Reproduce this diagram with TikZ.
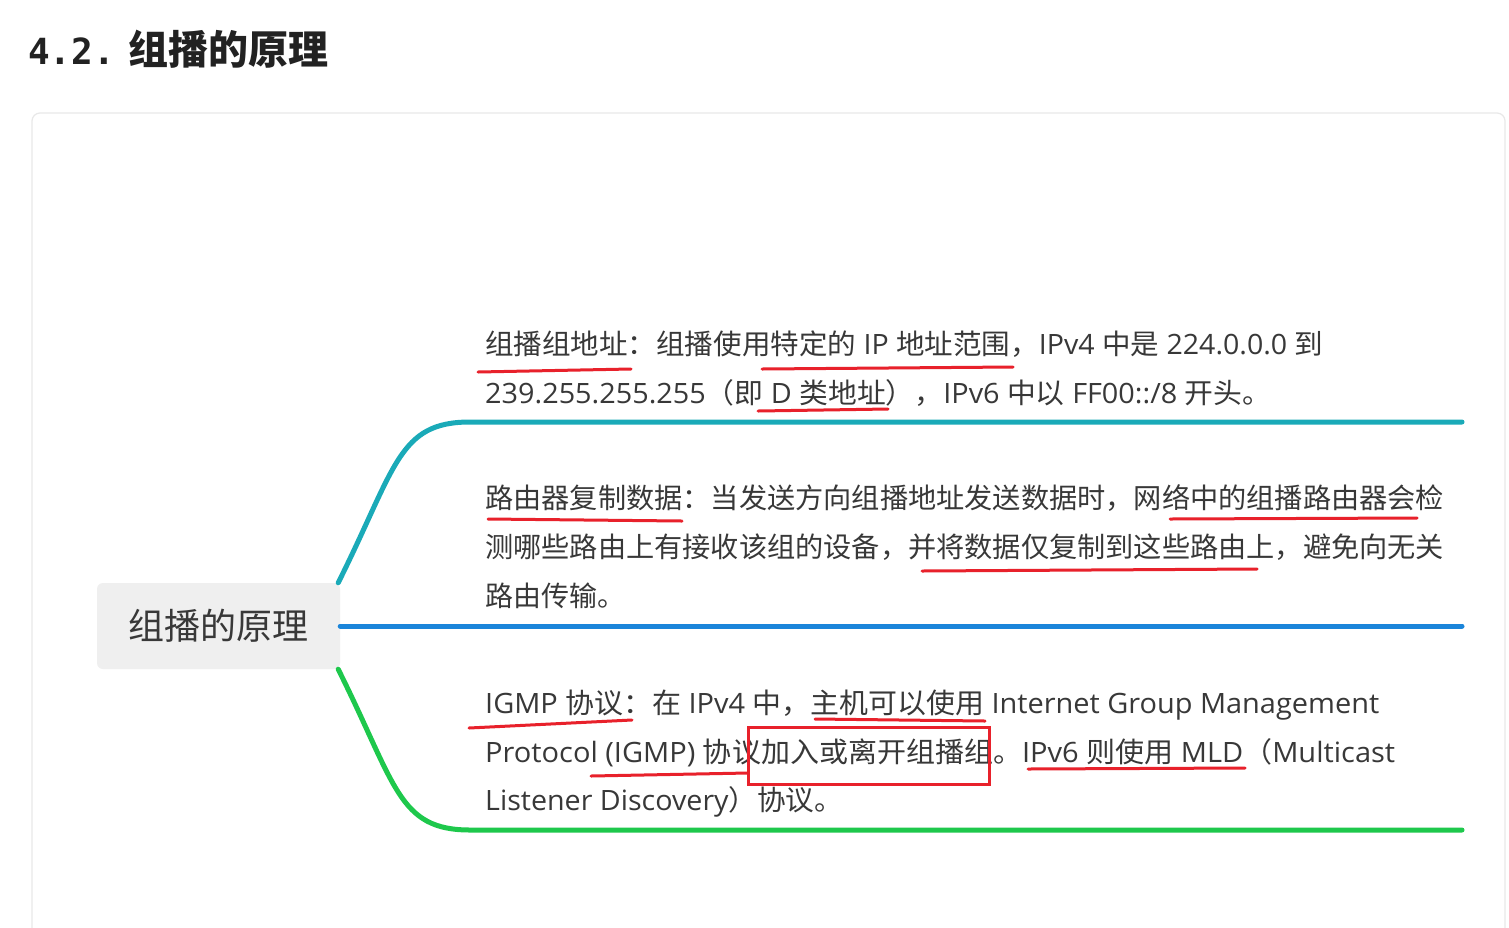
\documentclass[tikz,border=0pt]{standalone}
\usepackage{fontspec}
\usepackage{graphicx}
\setmainfont{Open Sans}
\newfontfamily\cjk{Noto Sans CJK SC}
\newfontfamily\monofam{DejaVu Sans Mono}
\newcommand\zh[1]{{\cjk #1}}
\definecolor{txt}{HTML}{383838}
\definecolor{titlecol}{HTML}{222222}
\definecolor{rootfill}{HTML}{EFEFEF}
\definecolor{cardline}{HTML}{E8E8E8}
\definecolor{brteal}{HTML}{1AAAB8}
\definecolor{brblue}{HTML}{1B85DA}
\definecolor{brgreen}{HTML}{1EC84C}
\definecolor{annred}{HTML}{E8212B}
\begin{document}
\begin{tikzpicture}[x=1pt,y=-1pt,
  textline/.style={font=\fontsize{28pt}{34pt}\selectfont, text=txt, anchor=west, inner sep=0pt, text height=24.6pt, text depth=3.4pt},
  rootbox/.style={fill=rootfill, rounded corners=6pt, minimum width=243pt, minimum height=86pt, inner sep=0pt, text=txt, font=\cjk\fontsize{36pt}{40pt}\selectfont},
  branch/.style={line width=5pt, line cap=round},
  redline/.style={draw=annred, line width=3pt, line cap=round}]
\useasboundingbox (0,0) rectangle (1509,927);
\fill[white] (0,0) rectangle (1509,927);
\clip (0,0) rectangle (1509,927);
% card
\draw[cardline, line width=1.2pt, rounded corners=8pt] (32,960) -- (32,113) -- (1505,113) -- (1505,960);
% title
\node[anchor=west, inner sep=0pt, text=titlecol, text height=35.2pt, text depth=4.8pt] (title) at (28,49)
  {{\monofam\bfseries\fontsize{36pt}{40pt}\selectfont 4.2.}\hspace{14pt}{\cjk\bfseries\fontsize{40pt}{44pt}\selectfont 组播的原理}};
% root
\node[rootbox] (root) at (218.5,626) {组播的原理};
% branch ends
\coordinate (t1) at (470,422); \coordinate (t1e) at (1462,422);
\coordinate (t2e) at (1462,626);
\coordinate (t3) at (470,830); \coordinate (t3e) at (1462,830);
\draw[branch, brteal] ([xshift=-2pt]root.north east) .. controls +(58,-116) and (398,422) .. (t1) -- (t1e);
\draw[branch, brblue] (root.east) -- (t2e);
\draw[branch, brgreen] ([xshift=-2pt]root.south east) .. controls +(58,116) and (398,830) .. (t3) -- (t3e);
% block 1
\node[textline] (b1a) at (485,344) {\resizebox{838pt}{\height}{\zh{组播组地址：组播使用特定的} IP \zh{地址范围，}IPv4 \zh{中是} 224.0.0.0 \zh{到}}};
\node[textline] (b1b) at (485,393) {\resizebox{786pt}{\height}{239.255.255.255\zh{（即} D \zh{类地址），}IPv6 \zh{中以} FF00::/8 \zh{开头。}}};
% block 2
\node[textline, font=\cjk\fontsize{28pt}{34pt}\selectfont] (b2a) at (485,498) {\resizebox{959pt}{\height}{路由器复制数据：当发送方向组播地址发送数据时，网络中的组播路由器会检}};
\node[textline, font=\cjk\fontsize{28pt}{34pt}\selectfont] (b2b) at (485,547) {\resizebox{959pt}{\height}{测哪些路由上有接收该组的设备，并将数据仅复制到这些路由上，避免向无关}};
\node[textline, font=\cjk\fontsize{28pt}{34pt}\selectfont] (b2c) at (485,596) {路由传输。};
% block 3
\node[textline] (b3a) at (485,703) {\resizebox{894pt}{\height}{IGMP \zh{协议：在} IPv4 \zh{中，主机可以使用} Internet Group Management}};
\node[textline] (b3b) at (485,752) {\resizebox{910pt}{\height}{Protocol (IGMP) \zh{协议加入或离开组播组。}IPv6 \zh{则使用} MLD\zh{（}Multicast}};
\node[textline] (b3c) at (485,800) {\resizebox{358pt}{\height}{Listener Discovery\zh{）协议。}}};
% red annotations
\draw[redline] (478,372) -- (631,369);
\draw[redline] (762,369) -- (1013,367);
\draw[redline] (758,411) -- (888,409);
\draw[redline] (488,519) -- (682,521);
\draw[redline] (1170,519) -- (1417,518);
\draw[redline] (922,571) -- (1257,569);
\draw[redline] (469,728) -- (632,720);
\draw[redline] (815,719) -- (985,721);
\draw[redline] (591,776) -- (748,773);
\draw[redline] (1028,769) -- (1245,768);
\draw[annred, line width=3pt] (748,727) rectangle (989,784);
\end{tikzpicture}
\end{document}
